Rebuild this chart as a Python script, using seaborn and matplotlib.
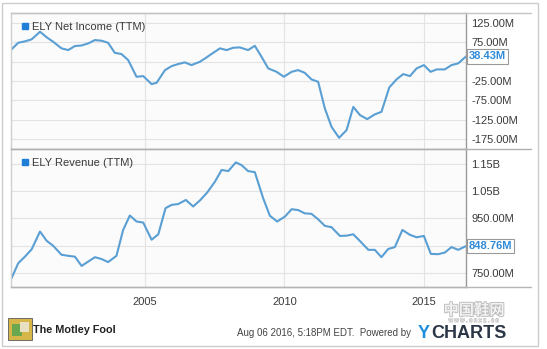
import matplotlib
matplotlib.use("Agg")
import matplotlib.pyplot as plt
import matplotlib.patheffects as pe
from matplotlib.lines import Line2D
from matplotlib.patches import Rectangle
import seaborn as sns
import pandas as pd

# ---------------- data (values in millions USD) ----------------
ni_years = [2000.22, 2000.46, 2000.70, 2000.94, 2001.24, 2001.48, 2001.71, 2002.01, 2002.25, 2002.49,
            2002.73, 2002.97, 2003.21, 2003.45, 2003.68, 2003.92, 2004.16, 2004.40, 2004.70, 2004.94,
            2005.24, 2005.42, 2005.72, 2005.96, 2006.19, 2006.43, 2006.67, 2006.97, 2007.21, 2007.45,
            2007.69, 2007.93, 2008.16, 2008.40, 2008.70, 2008.94, 2009.18, 2009.42, 2009.72, 2009.98,
            2010.26, 2010.49, 2010.73, 2010.97, 2011.21, 2011.45, 2011.69, 2011.96, 2012.23, 2012.47,
            2012.71, 2012.97, 2013.24, 2013.48, 2013.76, 2014.02, 2014.26, 2014.50, 2014.74, 2015.00,
            2015.24, 2015.46, 2015.75, 2015.99, 2016.23, 2016.51]
ni_values = [56.9, 74, 77.6, 82.8, 102.5, 88, 76.6, 59.5, 55, 65.4,
             67, 72.4, 81, 79.2, 74, 48, 44.7, 29.1, -14.1, -12.3,
             -33, -29.7, 3.2, 13.6, 18.8, 23.2, 16.2, 24.7, 36.1, 48,
             59.5, 55, 61, 62, 55, 66.2, 37.7, 7.6, -1.2, -14,
             -1.2, 3.2, -3.8, -20.9, -27, -96, -143.7, -172, -152, -92,
             -113.3, -123.7, -111.5, -104.8, -41.6, -20.9, -7.1, -12.3, 7.6, 16.2,
             -1.2, 5, 5, 16.2, 20.6, 38.43]

rev_years = [2000.22, 2000.46, 2000.70, 2000.94, 2001.24, 2001.48, 2001.71, 2002.01, 2002.25, 2002.49,
             2002.73, 2002.97, 2003.21, 2003.45, 2003.68, 2003.98, 2004.22, 2004.46, 2004.70, 2004.94,
             2005.24, 2005.48, 2005.74, 2005.96, 2006.19, 2006.47, 2006.73, 2006.97, 2007.23, 2007.51,
             2007.75, 2007.99, 2008.26, 2008.46, 2008.70, 2008.94, 2009.24, 2009.48, 2009.74, 2010.02,
             2010.26, 2010.49, 2010.73, 2010.97, 2011.21, 2011.45, 2011.69, 2011.99, 2012.23, 2012.47,
             2012.73, 2013.01, 2013.24, 2013.48, 2013.72, 2013.96, 2014.23, 2014.50, 2014.74, 2015.00,
             2015.25, 2015.51, 2015.75, 2015.99, 2016.23, 2016.51]
rev_values = [731, 786, 810, 837, 902, 868, 850, 817, 813, 810,
              776, 792, 808, 801, 790, 813, 908, 961, 939, 935,
              872, 892, 988, 1000, 1003, 1018, 994, 1016, 1045, 1085,
              1128, 1124, 1156, 1146, 1124, 1120, 1024, 960, 939, 957,
              984, 981, 969, 967, 947, 923, 918, 886, 887, 892,
              865, 835, 835, 808, 838, 845, 908, 890, 881, 886,
              820, 819, 825, 845, 835, 848.76]

# gridline ticks; the labels hidden behind the last-value boxes are left blank
ni_ticks = [125, 75, 25, -25, -75, -125, -175]
ni_tick_labels = ["125.00M", "75.00M", "", "-25.00M", "-75.00M", "-125.00M", "-175.00M"]
rev_ticks = [1150, 1050, 950, 850, 750]
rev_tick_labels = ["1.15B", "1.05B", "950.00M", "", "750.00M"]
x_ticks = [2005, 2010, 2015]
x_tick_labels = ["2005", "2010", "2015"]
ni_label = "ELY Net Income (TTM)"
rev_label = "ELY Revenue (TTM)"
ni_last_label = "38.43M"
rev_last_label = "848.76M"

# ---------------- styling ----------------
sns.set_theme(style="whitegrid")
plt.rcParams["font.family"] = ["Liberation Sans", "DejaVu Sans"]

LINE = "#5a9fd4"
SQUARE = "#1f7fd6"
GRID = "#e3e3e3"
TXT = "#3a3a3a"

W, H = 547, 349
fig = plt.figure(figsize=(W / 100, H / 100), dpi=100)
fig.patch.set_facecolor("white")

def fx(px):
    return px / W

def fy(py):
    return 1 - py / H

ax1 = fig.add_axes([fx(11), fy(149), fx(466) - fx(11), fy(13) - fy(149)])
ax2 = fig.add_axes([fx(11), fy(287), fx(466) - fx(11), fy(149) - fy(287)])

df_ni = pd.DataFrame({"year": ni_years, "value": ni_values})
df_rev = pd.DataFrame({"year": rev_years, "value": rev_values})

sns.lineplot(data=df_ni, x="year", y="value", ax=ax1, color=LINE, linewidth=1.5)
sns.lineplot(data=df_rev, x="year", y="value", ax=ax2, color=LINE, linewidth=1.5)

for ax, ticks, labels, ylim in [
    (ax1, ni_ticks, ni_tick_labels, (-201, 151)),
    (ax2, rev_ticks, rev_tick_labels, (698.6, 1205)),
]:
    ax.set_facecolor("#fbfbfb")
    ax.set_xlim(2000.2, 2016.51)
    ax.set_ylim(*ylim)
    ax.set_yticks(ticks)
    ax.set_yticklabels(labels)
    ax.set_xticks(x_ticks)
    ax.yaxis.tick_right()
    ax.tick_params(axis="y", length=0, pad=4, labelsize=8, labelcolor=TXT)
    ax.tick_params(axis="x", length=0)
    ax.grid(True, color=GRID, linewidth=0.8)
    ax.set_xlabel("")
    ax.set_ylabel("")
    ax.spines["left"].set_color("#cfcfcf")
    ax.spines["right"].set_color("#9a9a9a")
    ax.spines["top"].set_color("#c4c4c4")
    ax.spines["bottom"].set_color("#b5b5b5")
    for s in ax.spines.values():
        s.set_linewidth(1.0)

ax1.set_xticklabels([])
ax2.set_xticklabels(x_tick_labels)
ax2.tick_params(axis="x", pad=7, labelsize=8, labelcolor=TXT)

# legends with square markers
for ax, lab in [(ax1, ni_label), (ax2, rev_label)]:
    h = Line2D([], [], marker="s", linestyle="", color=SQUARE, markersize=5)
    lg = ax.legend([h], [lab], loc="upper left", frameon=False, fontsize=8,
                   handlelength=0.6, handletextpad=0.4, borderaxespad=0.2,
                   bbox_to_anchor=(0.008, 0.985))
    for t in lg.get_texts():
        t.set_color(TXT)

# last-value boxes
for ax, val, lab in [(ax1, ni_values[-1], ni_last_label), (ax2, rev_values[-1], rev_last_label)]:
    ax.text(1.006, val, lab, transform=ax.get_yaxis_transform(), ha="left", va="center",
            fontsize=8, fontweight="bold", color="#2f8ad8", clip_on=False, zorder=10,
            bbox=dict(boxstyle="square,pad=0.2", facecolor="white", edgecolor="#9a9a9a", linewidth=0.8))

# extended frame lines
for py, col in [(13, "#c4c4c4"), (149, "#b0b0b0"), (287, "#b5b5b5")]:
    fig.add_artist(Line2D([fx(11), fx(531)], [fy(py), fy(py)], color=col, linewidth=1.0,
                          transform=fig.transFigure))

# outer border
fig.add_artist(Rectangle((fx(2), fy(346)), fx(538) - fx(2), fy(3) - fy(346), transform=fig.transFigure,
                         fill=False, edgecolor="#cccccc", linewidth=1.0))

# footer: logo + text
fig.add_artist(Rectangle((fx(8), fy(340)), fx(24), 22 / H, transform=fig.transFigure,
                         facecolor="#d6b648", edgecolor="#5a5a5a", linewidth=0.6))
fig.add_artist(Rectangle((fx(12), fy(336)), fx(10), 12 / H, transform=fig.transFigure,
                         facecolor="#6aa84f", edgecolor="none"))
fig.add_artist(Rectangle((fx(20), fy(332)), fx(9), 10 / H, transform=fig.transFigure,
                         facecolor="#e8e0c0", edgecolor="none"))
fig.text(fx(33), fy(330), "The Motley Fool", fontsize=7.8, fontweight="bold", color="#222222",
         ha="left", va="center")
fig.text(fx(411), fy(333), "Aug 06 2016, 5:18PM EDT.  Powered by", fontsize=7, color="#444444",
         ha="right", va="center")
fig.text(fx(430), fy(333.5), "Y", fontsize=13, fontweight="bold", color="#1e8fdc",
         ha="right", va="center")
fig.text(fx(507), fy(333.5), "CHARTS", fontsize=13, fontweight="bold", color="#2b3746",
         ha="right", va="center")

# watermark
wm = [pe.withStroke(linewidth=1.2, foreground="#b8b8b8")]
fig.text(fx(474), fy(310), "中国鞋网", fontsize=11, fontweight="bold", color="#f2f2f2",
         ha="center", va="center", family=["Noto Sans CJK SC", "DejaVu Sans"], path_effects=wm, zorder=20)
fig.text(fx(474), fy(320.5), "w w w . c n x z . c n", fontsize=4.2, color="#f2f2f2",
         ha="center", va="center", path_effects=[pe.withStroke(linewidth=0.8, foreground="#c0c0c0")], zorder=20)

fig.savefig("out.png", dpi=100)
